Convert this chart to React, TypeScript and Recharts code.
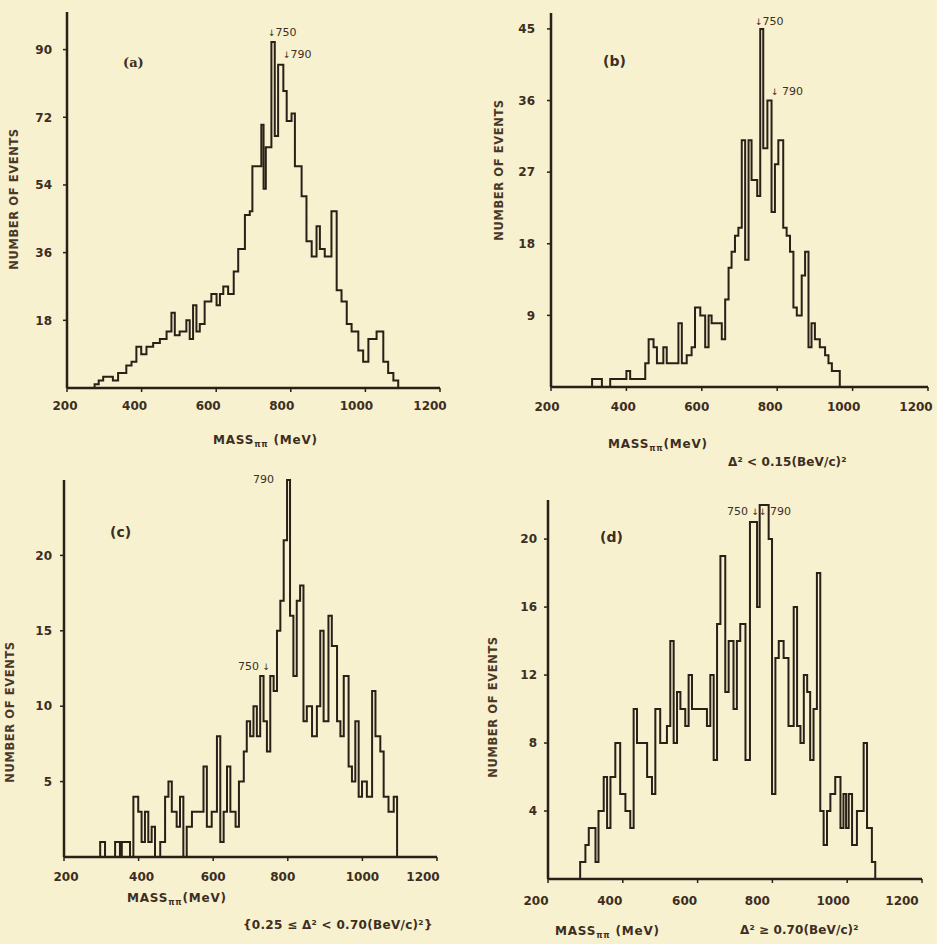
import { LineChart, Line, XAxis, YAxis } from "recharts";

const INK = "#2b1f17";
const TEXT = "#3d2e22";
const PAPER = "#f7f1cf";
const FONT = "DejaVu Sans";

const massTicks = [200, 400, 600, 800, 1000, 1200];

// (a) all events: left bin edges (MeV) and counts
const edgesA = [274, 285, 297, 323, 337, 359, 373, 386, 399, 413, 431, 449, 467, 480, 489, 502, 520, 529, 538, 547, 556, 569, 587, 601, 610, 619, 632, 647, 659, 677, 690, 697, 721, 727, 733, 748, 757, 766, 780, 789, 802, 811, 829, 842, 856, 869, 878, 891, 909, 923, 936, 950, 963, 981, 994, 1008, 1030, 1048, 1061, 1075];
const countsA = [1, 2, 3, 2, 4, 6, 7, 11, 9, 11, 12, 13, 15, 20, 14, 15, 18, 13, 22, 15, 17, 23, 25, 22, 25, 27, 25, 31, 37, 46, 47, 59, 70, 53, 64, 92, 67, 86, 79, 71, 73, 59, 51, 39, 35, 43, 37, 35, 47, 26, 23, 17, 15, 10, 7, 13, 15, 7, 4, 2];
const endA = 1088;
const yTicksA = [18, 36, 54, 72, 90];

// (b) delta^2 < 0.15
const edgesB = [309, 335, 357, 400, 410, 450, 459, 472, 481, 498, 507, 538, 547, 560, 573, 582, 596, 609, 618, 626, 653, 662, 671, 679, 688, 697, 706, 715, 724, 732, 747, 755, 763, 774, 785, 794, 803, 816, 825, 834, 843, 852, 865, 874, 883, 891, 900, 913, 927, 936, 945];
const countsB = [1, 0, 1, 2, 1, 3, 6, 5, 3, 5, 3, 8, 3, 4, 5, 10, 9, 5, 9, 8, 6, 11, 15, 17, 19, 20, 31, 16, 31, 26, 24, 45, 30, 36, 22, 28, 31, 20, 19, 17, 10, 9, 14, 17, 5, 8, 6, 5, 4, 3, 2];
const endB = 966;
const yTicksB = [9, 18, 27, 36, 45];

// (c) 0.25 <= delta^2 < 0.70
const edgesC = [297, 310, 337, 350, 355, 377, 386, 399, 408, 417, 426, 435, 444, 458, 471, 480, 489, 502, 511, 520, 529, 543, 574, 583, 596, 610, 619, 628, 637, 646, 660, 669, 682, 690, 699, 708, 717, 726, 735, 744, 753, 762, 771, 780, 789, 798, 806, 815, 824, 833, 842, 851, 865, 878, 887, 896, 909, 918, 932, 941, 950, 963, 972, 981, 990, 999, 1012, 1026, 1035, 1048, 1057, 1070, 1084];
const countsC = [1, 0, 1, 0, 1, 0, 4, 3, 1, 3, 1, 2, 0, 1, 4, 5, 3, 2, 4, 0, 2, 3, 6, 2, 3, 8, 1, 3, 6, 3, 2, 5, 7, 9, 8, 10, 8, 12, 9, 7, 12, 11, 15, 17, 21, 25, 16, 12, 17, 18, 9, 10, 8, 10, 15, 9, 16, 14, 9, 8, 12, 6, 5, 9, 4, 5, 4, 11, 8, 7, 4, 3, 4];
const endC = 1093;
const yTicksC = [5, 10, 15, 20];

// (d) delta^2 >= 0.70
const edgesD = [286, 300, 309, 327, 335, 349, 358, 367, 380, 393, 407, 420, 429, 438, 465, 478, 487, 500, 518, 527, 536, 545, 554, 567, 576, 585, 625, 634, 643, 652, 661, 674, 683, 696, 705, 714, 728, 740, 759, 766, 790, 799, 808, 817, 830, 843, 857, 866, 875, 884, 893, 901, 910, 919, 928, 937, 946, 955, 968, 982, 990, 997, 1004, 1013, 1026, 1044, 1053, 1066];
const countsD = [1, 2, 3, 1, 4, 6, 3, 6, 8, 5, 4, 3, 10, 8, 6, 5, 10, 8, 9, 14, 8, 11, 10, 9, 12, 10, 9, 12, 7, 15, 19, 11, 14, 10, 14, 15, 7, 21, 16, 22, 20, 5, 13, 14, 13, 9, 16, 9, 8, 12, 11, 7, 10, 18, 4, 2, 4, 5, 6, 3, 5, 3, 5, 2, 4, 8, 3, 1];
const endD = 1075;
const yTicksD = [4, 8, 12, 16, 20];

// the typed tick labels sit a little off their tick marks in the original
const shiftA = [-2, -7, -8, -9, -9, -10];
const shiftB = [-4, -3, -5, -7, -9, -12];
const shiftC = [2, 3, 0, -5, 0, -14];
const shiftD = [-12, -13, -13, -15, -14, -20];

const toSteps = (edges, counts, end) => [
  { m: edges[0], n: 0 },
  ...edges.map((m, i) => ({ m, n: counts[i] })),
  { m: end, n: 0 },
];

const YW = 50;
const MT = 10;
const MR = 24;
const XH = 34;

function Histogram({ edges, counts, end, yTicks, yMax, x0, x1, top, bottom, yGap, labelDy, shifts }) {
  const data = toSteps(edges, counts, end);
  const MassTick = (p) => (
    <text
      x={p.x + (shifts[p.index] || 0)}
      y={p.y}
      dy={labelDy}
      textAnchor="middle"
      fill={TEXT}
      fontSize={12}
      fontWeight={700}
      fontFamily={FONT}
    >
      {p.payload.value}
    </text>
  );
  return (
    <div style={{ position: "absolute", left: x0 - YW, top: top - MT }}>
      <LineChart
        width={x1 - x0 + YW + MR}
        height={bottom - top + MT + XH}
        data={data}
        margin={{ top: MT, right: MR, bottom: 0, left: 0 }}
      >
        <XAxis
          dataKey="m"
          type="number"
          domain={[200, 1200]}
          ticks={massTicks}
          interval={0}
          height={XH}
          tickSize={4}
          tickMargin={4}
          axisLine={{ stroke: INK, strokeWidth: 2.5 }}
          tickLine={{ stroke: INK, strokeWidth: 1.5 }}
          tick={MassTick}
        />
        <YAxis
          type="number"
          domain={[0, yMax]}
          ticks={yTicks}
          interval={0}
          width={YW}
          tickSize={4}
          tickMargin={yGap}
          axisLine={{ stroke: INK, strokeWidth: 2.5 }}
          tickLine={{ stroke: INK, strokeWidth: 1.5 }}
          tick={{ fill: TEXT, fontSize: 12, fontWeight: 700, fontFamily: FONT }}
        />
        <Line
          type="stepAfter"
          dataKey="n"
          stroke={INK}
          strokeWidth={2}
          dot={false}
          isAnimationActive={false}
        />
      </LineChart>
    </div>
  );
}

const bold = { fill: TEXT, fontFamily: FONT, fontWeight: 700 };

const YTitle = ({ x, y }) => (
  <text
    transform={`translate(${x},${y}) rotate(-90)`}
    textAnchor="middle"
    dominantBaseline="middle"
    fontSize={11.5}
    letterSpacing={0.6}
    {...bold}
    fill="#4a3829"
  >
    NUMBER OF EVENTS
  </text>
);

const MassTitle = ({ x, y, gap }) => (
  <text x={x} y={y} fontSize={12} letterSpacing={0.8} {...bold}>
    MASS
    <tspan fontSize={8} dy={3}>ππ</tspan>
    <tspan dy={-3}>{gap ? " (MeV)" : "(MeV)"}</tspan>
  </text>
);

export default function App() {
  return (
    <div style={{ position: "absolute", left: 0, top: 0, width: 937, height: 944, background: PAPER, overflow: "hidden" }}>
      <Histogram edges={edgesA} counts={countsA} end={endA} yTicks={yTicksA} yMax={100}
        x0={67} x1={440} top={12} bottom={388} yGap={11} labelDy={14} shifts={shiftA} />
      <Histogram edges={edgesB} counts={countsB} end={endB} yTicks={yTicksB} yMax={47}
        x0={551} x1={928} top={13} bottom={387} yGap={12} labelDy={16} shifts={shiftB} />
      <Histogram edges={edgesC} counts={countsC} end={endC} yTicks={yTicksC} yMax={25}
        x0={64} x1={437} top={480} bottom={857} yGap={8} labelDy={16} shifts={shiftC} />
      <Histogram edges={edgesD} counts={countsD} end={endD} yTicks={yTicksD} yMax={22.3}
        x0={548} x1={922} top={500} bottom={879} yGap={7} labelDy={18} shifts={shiftD} />

      <svg width={937} height={944} style={{ position: "absolute", left: 0, top: 0, pointerEvents: "none" }}>
        <YTitle x={14} y={199} />
        <YTitle x={499} y={170} />
        <YTitle x={10} y={712} />
        <YTitle x={493} y={707} />

        <MassTitle x={213} y={444} gap />
        <MassTitle x={608} y={448} />
        <MassTitle x={127} y={902} />
        <MassTitle x={555} y={935} gap />

        <text x={728} y={466} fontSize={12} letterSpacing={0.1} {...bold}>Δ² &lt; 0.15(BeV/c)²</text>
        <text x={243} y={929} fontSize={12} letterSpacing={0.3} {...bold}>{"{0.25 ≤ Δ² < 0.70(BeV/c)²}"}</text>
        <text x={740} y={934} fontSize={12} letterSpacing={0.1} {...bold}>Δ² ≥ 0.70(BeV/c)²</text>

        <text x={123} y={67} fontSize={13} fontFamily="DejaVu Serif" fontWeight={700} fill={TEXT}>(a)</text>
        <text x={603} y={66} fontSize={14} {...bold}>(b)</text>
        <text x={110} y={537} fontSize={14} {...bold}>(c)</text>
        <text x={600} y={542} fontSize={14} {...bold}>(d)</text>

        <g fontSize={11} fontFamily={FONT} fill={TEXT}>
          <text x={268} y={36}><tspan fontSize={9}>↓</tspan>750</text>
          <text x={283} y={58}><tspan fontSize={9}>↓</tspan>790</text>
          <text x={755} y={25}><tspan fontSize={9}>↓</tspan>750</text>
          <text x={771} y={95}><tspan fontSize={9}>↓</tspan> 790</text>
          <text x={253} y={483}>790</text>
          <text x={238} y={670}>750 <tspan fontSize={9}>↓</tspan></text>
          <text x={727} y={515}>750 <tspan fontSize={9}>↓</tspan><tspan fontSize={9}>↓</tspan> 790</text>
        </g>
      </svg>
    </div>
  );
}
